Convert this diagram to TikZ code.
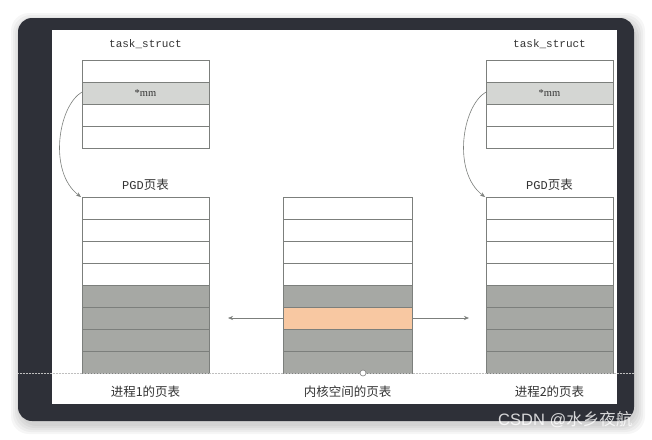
\documentclass[tikz,border=0pt]{standalone}
\usepackage{fontspec}
\setmainfont{Liberation Serif}
\newfontfamily\cjk{Noto Sans CJK SC}
\newfontfamily\monof{Liberation Mono}
\newfontfamily\wmfont{Liberation Sans}
\usetikzlibrary{arrows.meta}
\definecolor{framec}{HTML}{2E3038}
\definecolor{linec}{HTML}{7C7F7C}
\definecolor{lightg}{HTML}{D4D6D3}
\definecolor{darkg}{HTML}{A6A8A4}
\definecolor{orangec}{HTML}{F8C8A2}
\definecolor{txt}{HTML}{333333}
\begin{document}
\begin{tikzpicture}[x=1pt,y=-1pt,
  cell/.style={draw=linec,line width=0.8pt,minimum width=127pt,minimum height=22pt,inner sep=0pt,outer sep=0pt,anchor=north west,font=\fontsize{10.5}{10.5}\selectfont,text=txt},
  wcell/.style={cell,fill=white},
  gcell/.style={cell,fill=darkg},
  mcell/.style={cell,fill=lightg},
  ocell/.style={cell,fill=orangec},
  lbl/.style={font=\cjk\fontsize{12.5}{13}\selectfont,text=txt,inner sep=0pt},
  tlbl/.style={font=\monof\fontsize{11}{11}\selectfont,text=txt,inner sep=0pt},
  conn/.style={draw=linec,line width=0.6pt,-{Stealth[length=5pt,width=4pt]}}
]
\useasboundingbox (0,0) rectangle (652,439);
\fill[white] (0,0) rectangle (652,439);
% soft shadow
\foreach \d in {9,7,5,3,1}{
  \fill[black,opacity=0.035,rounded corners=18pt] (18-\d+2,18-\d+4) rectangle (634+\d+2,421+\d+4);
}
% frame
\fill[framec,rounded corners=14pt] (18,18) rectangle (634,421);
\fill[white] (52,30) rectangle (617,404);

% task_struct left
\node[tlbl] (tsl) at (145.5,44) {task\_struct};
\node[wcell] (l1) at (82,60) {};
\node[mcell] (l2) at (82,82) {*mm};
\node[wcell] (l3) at (82,104) {};
\node[wcell] (l4) at (82,126) {};
% task_struct right
\node[tlbl] (tsr) at (549.5,44) {task\_struct};
\node[wcell] (r1) at (486,60) {};
\node[mcell] (r2) at (486,82) {*mm};
\node[wcell] (r3) at (486,104) {};
\node[wcell] (r4) at (486,126) {};

% PGD labels
\node[lbl] (pgdl) at (145.5,185) {{\monof\fontsize{12}{12}\selectfont PGD}页表};
\node[lbl] (pgdr) at (549.5,185) {{\monof\fontsize{12}{12}\selectfont PGD}页表};

% left page table
\node[wcell] (a1) at (82,197) {};
\node[wcell] (a2) at (82,219) {};
\node[wcell] (a3) at (82,241) {};
\node[wcell] (a4) at (82,263) {};
\node[gcell] (a5) at (82,285) {};
\node[gcell] (a6) at (82,307) {};
\node[gcell] (a7) at (82,329) {};
\node[gcell] (a8) at (82,351) {};
% middle
\node[wcell,minimum width=129pt] (m1) at (283,197) {};
\node[wcell,minimum width=129pt] (m2) at (283,219) {};
\node[wcell,minimum width=129pt] (m3) at (283,241) {};
\node[wcell,minimum width=129pt] (m4) at (283,263) {};
\node[gcell,minimum width=129pt] (m5) at (283,285) {};
\node[ocell,minimum width=129pt] (m6) at (283,307) {};
\node[gcell,minimum width=129pt] (m7) at (283,329) {};
\node[gcell,minimum width=129pt] (m8) at (283,351) {};
% right
\node[wcell] (b1) at (486,197) {};
\node[wcell] (b2) at (486,219) {};
\node[wcell] (b3) at (486,241) {};
\node[wcell] (b4) at (486,263) {};
\node[gcell] (b5) at (486,285) {};
\node[gcell] (b6) at (486,307) {};
\node[gcell] (b7) at (486,329) {};
\node[gcell] (b8) at (486,351) {};

% bottom labels
\node[lbl] (cap1) at (145.5,392) {进程1的页表};
\node[lbl] (cap2) at (347.5,392) {内核空间的页表};
\node[lbl] (cap3) at (549.5,392) {进程2的页表};

% connectors
\coordinate (al) at (228,318);
\coordinate (ar) at (469,318);
\draw[conn] (m6.west) -- (al);
\draw[conn] (m6.east) -- (ar);
\draw[conn] ([yshift=1pt]l2.west) .. controls (58,106) and (48,172) .. ([xshift=-1pt]a1.north west);
\draw[conn] ([yshift=1pt]r2.west) .. controls (462,106) and (452,172) .. ([xshift=-1pt]b1.north west);

% screenshot artifacts
\draw[densely dotted,line width=0.5pt,color=gray!50] (18,373) -- (634,373);
\node[circle,draw=gray,fill=white,line width=0.6pt,minimum size=6pt,inner sep=0pt] (hdl) at (363,373) {};

% watermark
\node[anchor=west,inner sep=0pt,text=white,opacity=0.8,font=\wmfont\fontsize{16.5}{17}\selectfont] (wm) at (498,420) {CSDN @{\cjk 水乡夜航}};
\end{tikzpicture}
\end{document}
